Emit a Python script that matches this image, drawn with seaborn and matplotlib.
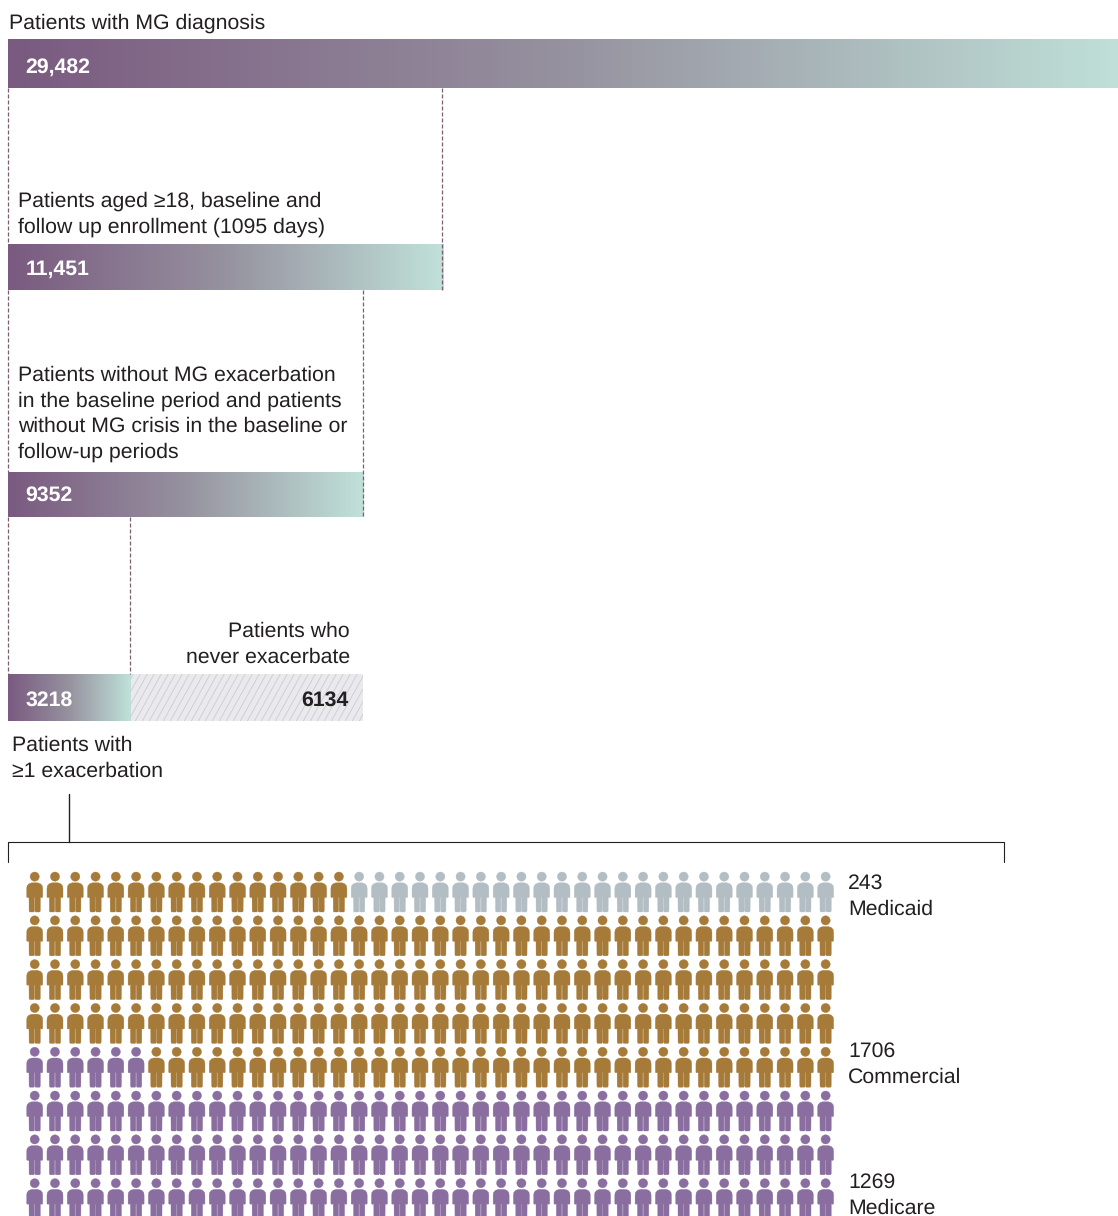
import numpy as np
import pandas as pd
import matplotlib
matplotlib.use("Agg")
import matplotlib.pyplot as plt
from matplotlib.colors import LinearSegmentedColormap
from matplotlib.path import Path
from matplotlib.markers import MarkerStyle
import seaborn as sns

# ---------- data ----------
funnel_labels = ["Patients with MG diagnosis", "Aged 18+, enrolled", "No exacerbation / crisis", "At least 1 exacerbation"]
funnel_values = [29482, 11451, 9352, 3218]
funnel_texts = ["29,482", "11,451", "9352", "3218"]
never_value = 6134
payer_names = ["Medicaid", "Commercial", "Medicare"]
payer_values = [243, 1706, 1269]
payer_colors = ["#B3BDC4", "#A67A38", "#8A6EA0"]
payer_brown_in_top_row = 16

# ---------- layout helpers (pixels) ----------
W, H = 1118, 1216
PX_PER_PATIENT = 0.038
X0 = 8
bar_spans = [(39, 88), (244, 290), (472, 517), (674, 721)]
label_y = [67, 269, 495, 700]

sns.set_theme(style="white")
plt.rcParams["font.family"] = ["Liberation Sans", "DejaVu Sans"]
plt.rcParams["text.hinting"] = "no_hinting"
plt.rcParams["text.hinting_factor"] = 8

fig = plt.figure(figsize=(W / 100, H / 100), dpi=100, facecolor="white")

# axis: x in patients, y in pixels
ax = fig.add_axes([0, 0, 1, 1])
xlim = (-X0 / PX_PER_PATIENT, (W - X0) / PX_PER_PATIENT)
cmap = LinearSegmentedColormap.from_list("grad", ["#7A5A80", "#96929F", "#C0E1D9"])

for value, (top, bot) in zip(funnel_values, bar_spans):
    sns.barplot(x=[value], y=[(top + bot) / 2], orient="h", native_scale=True,
                width=bot - top, color="#7A5A80", saturation=1, ax=ax, linewidth=0)
    patch = ax.patches[-1]
    img = ax.imshow(np.linspace(0, 1, 400).reshape(1, -1), cmap=cmap, aspect="auto",
                    extent=(0, value, bot, top), zorder=2)
    img.set_clip_path(patch)

top, bot = bar_spans[3]
sns.barplot(x=[never_value], y=[(top + bot) / 2], orient="h", native_scale=True,
            width=bot - top, color="#EAEAEE", saturation=1, ax=ax, linewidth=0)
never_patch = ax.patches[-1]
never_patch.set_x(funnel_values[3])

ax.set_xlim(*xlim)
ax.set_ylim(H, 0)
ax.axis("off")

# hatching of the "never exacerbate" bar
left = funnel_values[3]
right = funnel_values[3] + never_value
for px in np.arange(X0 + left * PX_PER_PATIENT - 30, X0 + right * PX_PER_PATIENT + 10, 7.0):
    ln, = ax.plot([(px - X0) / PX_PER_PATIENT, (px + 26 - X0) / PX_PER_PATIENT], [bot, top],
                  color="#CDCDD2", lw=0.65, zorder=3)
    ln.set_clip_path(never_patch)

# dashed connectors
dash_color = "#7B5C70"
connectors = [(0, 88, 244), (funnel_values[1] - 40, 88, 290), (0, 290, 472),
              (funnel_values[2], 290, 517), (0, 517, 674), (funnel_values[3], 517, 674)]
for x, y0, y1 in connectors:
    ax.plot([x, x], [y0, y1], color=dash_color, lw=0.9, ls=(0, (3.2, 1.6)), zorder=4)

# pixel overlay
ov = fig.add_axes([0, 0, 1, 1], facecolor="none")
ov.set_xlim(0, W)
ov.set_ylim(H, 0)
ov.axis("off")

TXT = "#231F20"
FS = 15.3
def t(x, y, s, **kw):
    kw.setdefault("fontsize", FS)
    kw.setdefault("color", TXT)
    kw.setdefault("va", "center")
    ov.text(x, y, s, **kw)

t(9, 23, "Patients with MG diagnosis")
t(18, 201, "Patients aged ≥18, baseline and")
t(17.5, 227, "follow up enrollment (1095 days)")
t(18, 375, "Patients without MG exacerbation")
t(17.5, 401, "in the baseline period and patients")
t(18, 426, "without MG crisis in the baseline or")
t(17.5, 452, "follow-up periods")
t(350, 631, "Patients who", ha="right")
t(350, 657, "never exacerbate", ha="right")
t(12, 745, "Patients with")
t(12, 771, "≥1 exacerbation")

for txt, y in zip(funnel_texts, label_y):
    t(25.5, y, txt, color="white", fontweight="bold", zorder=5)
t(348, label_y[3], f"{never_value}", ha="right", fontweight="bold")

# bracket
ov.plot([68.8, 68.8], [794, 842], color="#231F20", lw=1.0)
ov.plot([8.3, 8.3, 1004, 1004], [862, 842.3, 842.3, 862], color="#231F20", lw=0.8)

# payer labels
t(848, 883, f"{payer_values[0]}")
t(848, 909, payer_names[0])
t(848, 1051, f"{payer_values[1]}")
t(848, 1077, payer_names[1])
t(848, 1182, f"{payer_values[2]}")
t(848, 1208, payer_names[2])

# ---------- pictogram ----------
n_cols, n_rows = 40, 8
per_person = sum(payer_values) / (n_cols * n_rows)
counts = [round(v / per_person) for v in payer_values]

assign = []
assign += [payer_names[1]] * payer_brown_in_top_row + [payer_names[0]] * counts[0]
assign += [payer_names[1]] * (counts[1] - payer_brown_in_top_row)
assign = assign[:n_cols * 4]
rest_brown = counts[1] - (n_cols * 3 + payer_brown_in_top_row)
row5 = [payer_names[2]] * (n_cols - rest_brown) + [payer_names[1]] * rest_brown
assign += row5 + [payer_names[2]] * (n_cols * 3)

people = pd.DataFrame({
    "col": [i % n_cols for i in range(n_cols * n_rows)],
    "row": [i // n_cols for i in range(n_cols * n_rows)],
    "payer": assign,
})

body = [(-8, -5), (-8, 3.5), (-7.6, 6.2), (-5.8, 8.2), (-3, 9.2), (3, 9.2), (5.8, 8.2), (7.6, 6.2), (8, 3.5),
        (8, -5), (7.4, -5.6), (6.4, -5.6), (5.7, -5), (5.6, -19), (5, -20), (0.8, -20), (0.3, -19),
        (0.3, -5.5), (-0.3, -5.5), (-0.3, -19), (-0.8, -20), (-5, -20), (-5.6, -19), (-5.7, -5),
        (-6.4, -5.6), (-7.4, -5.6), (-8, -5)]
body_path = Path(body, closed=True)
head_path = Path.circle(center=(0, 15.4), radius=4.6)
person = Path.make_compound_path(body_path, head_path)

pad_col = 20.28
pic = fig.add_axes([0, 0, 1, 1], facecolor="none")
sns.scatterplot(data=people, x="col", y="row", hue="payer",
                palette=dict(zip(payer_names, payer_colors)),
                marker=MarkerStyle(person), s=(40 * 0.72) ** 2, linewidth=0.25,
                edgecolor="face", legend=False, ax=pic)
pic.set_xlim(-34.7 / pad_col, (W - 34.7) / pad_col)
pic.set_ylim((H - 892) / 43.8, -892 / 43.8)
pic.axis("off")

fig.savefig("out.png", dpi=100, facecolor="white")
